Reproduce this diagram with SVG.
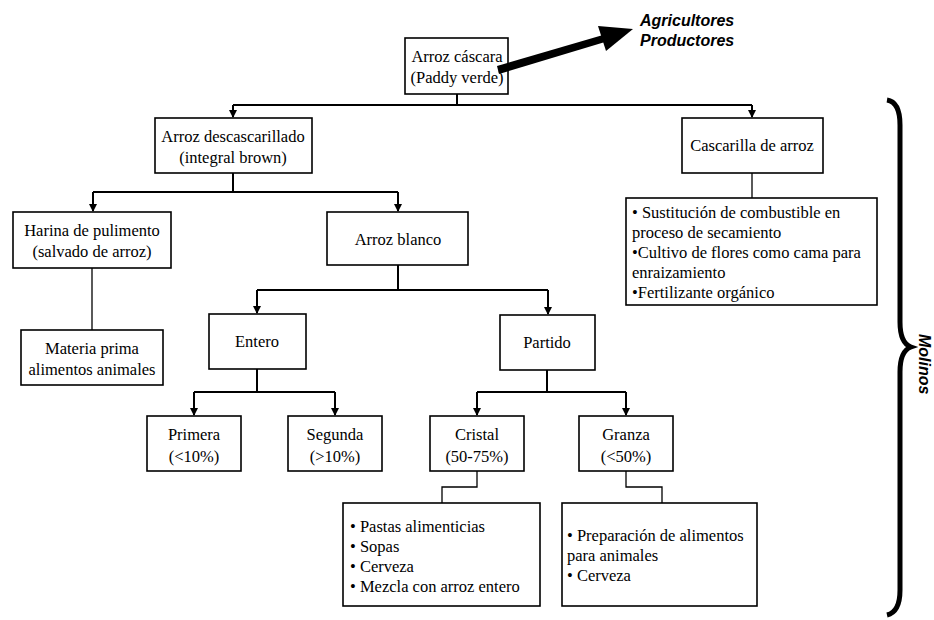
<svg xmlns="http://www.w3.org/2000/svg" width="934" height="620" viewBox="0 0 934 620">
<style>
.box{fill:#fff;stroke:#000;stroke-width:1.6}
.t{font-family:"Liberation Serif","Times New Roman","DejaVu Serif",serif;font-size:16.5px;fill:#000}
.c{text-anchor:middle}
.lab{font-family:"Liberation Sans",Arial,sans-serif;font-size:16px;font-weight:bold;font-style:italic;fill:#000}
.ln{fill:none;stroke:#000;stroke-width:2}
.thin{fill:none;stroke:#000;stroke-width:1.3}
</style>
<defs>
<marker id="ah" markerWidth="8" markerHeight="8" refX="7" refY="4" orient="auto" markerUnits="userSpaceOnUse">
<path d="M0,0 L8,4 L0,8 Z" fill="#000"/>
</marker>
</defs>
<rect width="934" height="620" fill="#fff"/>
<g id="connectors">
<path class="ln" d="M457,94 V105"/>
<path class="ln" d="M233,105 H752"/>
<path class="ln" d="M233,105 V117" marker-end="url(#ah)"/>
<path class="ln" d="M752,105 V117" marker-end="url(#ah)"/>
<path class="ln" d="M233,173 V192"/>
<path class="ln" d="M93,192 H398"/>
<path class="ln" d="M93,192 V211" marker-end="url(#ah)"/>
<path class="ln" d="M398,192 V211" marker-end="url(#ah)"/>
<path class="thin" d="M92,268 V330"/>
<path class="thin" d="M752,173 V198"/>
<path class="ln" d="M398,265 V290"/>
<path class="ln" d="M257,290 H548"/>
<path class="ln" d="M257,290 V313" marker-end="url(#ah)"/>
<path class="ln" d="M548,290 V314" marker-end="url(#ah)"/>
<path class="ln" d="M257,369 V392"/>
<path class="ln" d="M194,392 H335"/>
<path class="ln" d="M194,392 V415" marker-end="url(#ah)"/>
<path class="ln" d="M335,392 V415" marker-end="url(#ah)"/>
<path class="ln" d="M547,370 V392"/>
<path class="ln" d="M477,392 H626"/>
<path class="ln" d="M477,392 V415" marker-end="url(#ah)"/>
<path class="ln" d="M626,392 V415" marker-end="url(#ah)"/>
<path class="thin" d="M477,471 V487 H442 V503"/>
<path class="thin" d="M626,471 V487 H662 V503"/>
</g>
<g id="n-cascara">
<rect class="box" x="405" y="38" width="103" height="56"/>
<text class="t c" x="457" y="62">Arroz cáscara</text>
<text class="t c" x="457" y="83">(Paddy verde)</text>
</g>
<g id="arrow-agricultores">
<path d="M497,66 L603,35 L605,42 L499,74 Z" fill="#000"/>
<polygon points="633,29 598,26 606,51" fill="#000"/>
</g>
<g id="n-agricultores">
<text class="lab" x="640" y="26">Agricultores</text>
<text class="lab" x="640" y="46">Productores</text>
</g>
<g id="n-descascarillado">
<rect class="box" x="155" y="118" width="157" height="55"/>
<text class="t c" x="233" y="142">Arroz descascarillado</text>
<text class="t c" x="233" y="163">(integral brown)</text>
</g>
<g id="n-cascarilla">
<rect class="box" x="682" y="118" width="141" height="55"/>
<text class="t c" x="752" y="151">Cascarilla de arroz</text>
</g>
<g id="n-cascarilla-usos">
<rect class="box" x="626" y="198" width="251" height="107"/>
<text class="t" x="632" y="218">• Sustitución de combustible en</text>
<text class="t" x="632" y="238">proceso de secamiento</text>
<text class="t" x="632" y="258">•Cultivo de flores como cama para</text>
<text class="t" x="632" y="278">enraizamiento</text>
<text class="t" x="632" y="298">•Fertilizante orgánico</text>
</g>
<g id="n-harina">
<rect class="box" x="13" y="212" width="158" height="56"/>
<text class="t c" x="92" y="236">Harina de pulimento</text>
<text class="t c" x="92" y="257">(salvado de arroz)</text>
</g>
<g id="n-materia">
<rect class="box" x="21" y="330" width="142" height="55"/>
<text class="t c" x="92" y="354">Materia prima</text>
<text class="t c" x="92" y="375">alimentos animales</text>
</g>
<g id="n-blanco">
<rect class="box" x="327" y="212" width="141" height="53"/>
<text class="t c" x="398" y="245">Arroz blanco</text>
</g>
<g id="n-entero">
<rect class="box" x="209" y="314" width="97" height="55"/>
<text class="t c" x="257" y="347">Entero</text>
</g>
<g id="n-partido">
<rect class="box" x="500" y="315" width="95" height="55"/>
<text class="t c" x="547" y="348">Partido</text>
</g>
<g id="n-primera">
<rect class="box" x="147" y="416" width="94" height="55"/>
<text class="t c" x="194" y="440">Primera</text>
<text class="t c" x="194" y="462">(&lt;10%)</text>
</g>
<g id="n-segunda">
<rect class="box" x="288" y="416" width="94" height="55"/>
<text class="t c" x="335" y="440">Segunda</text>
<text class="t c" x="335" y="462">(&gt;10%)</text>
</g>
<g id="n-cristal">
<rect class="box" x="430" y="416" width="94" height="55"/>
<text class="t c" x="477" y="440">Cristal</text>
<text class="t c" x="477" y="462">(50-75%)</text>
</g>
<g id="n-granza">
<rect class="box" x="579" y="416" width="94" height="55"/>
<text class="t c" x="626" y="440">Granza</text>
<text class="t c" x="626" y="462">(&lt;50%)</text>
</g>
<g id="n-cristal-usos">
<rect class="box" x="343" y="503" width="197" height="103"/>
<text class="t" x="350" y="532">• Pastas alimenticias</text>
<text class="t" x="350" y="552">• Sopas</text>
<text class="t" x="350" y="572">• Cerveza</text>
<text class="t" x="350" y="592">• Mezcla con arroz entero</text>
</g>
<g id="n-granza-usos">
<rect class="box" x="562" y="503" width="195" height="103"/>
<text class="t" x="567" y="541">• Preparación de alimentos</text>
<text class="t" x="567" y="561">para animales</text>
<text class="t" x="567" y="581">• Cerveza</text>
</g>
<g id="n-molinos">
<path d="M887,100 Q900,102 900,125 L900,322 Q900,343 911,347 Q900,351 900,372 L900,590 Q900,612 887,615" fill="none" stroke="#000" stroke-width="5"/>
<text class="lab" transform="translate(919,334) rotate(90)">Molinos</text>
</g>
</svg>
